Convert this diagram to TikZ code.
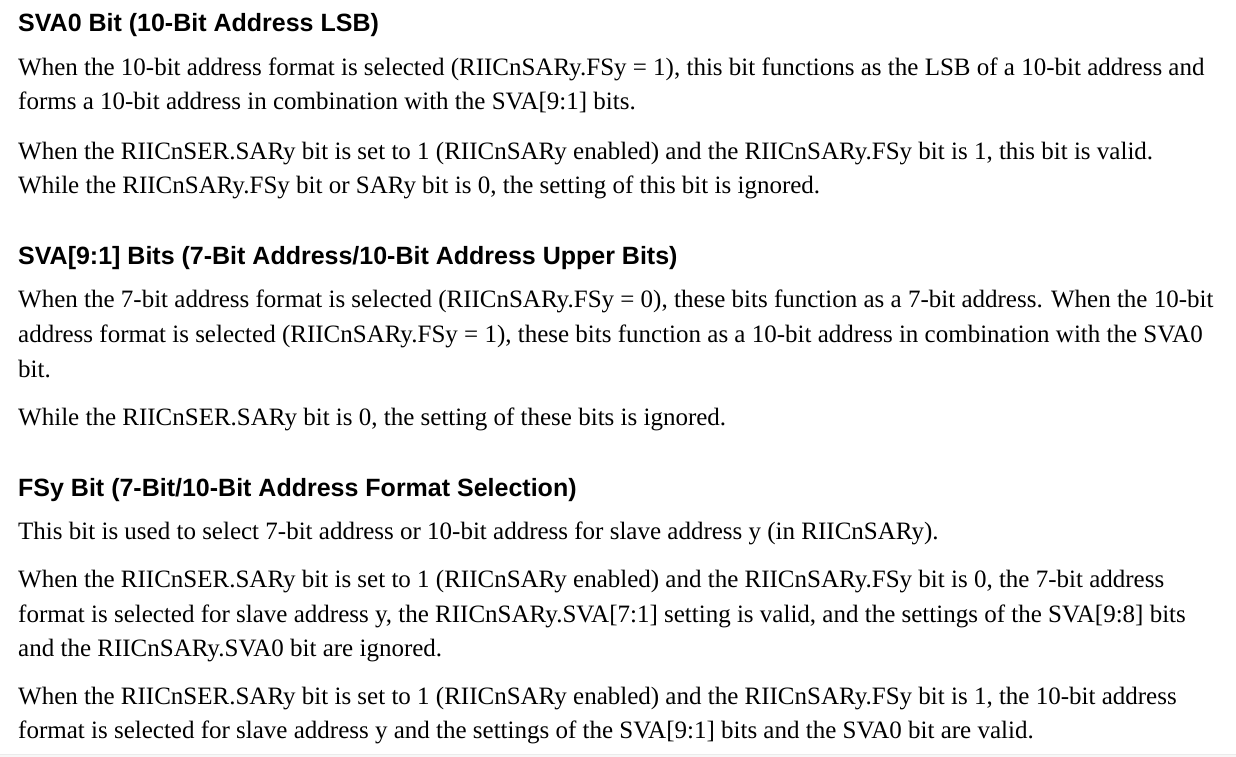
\documentclass[tikz,border=0pt]{standalone}
\usepackage{fontspec}
\setmainfont{Liberation Serif}
\newfontfamily\headfont{Liberation Sans}
\begin{document}
\begin{tikzpicture}[x=1pt,y=-1pt,
  body/.style={anchor=base west,inner sep=0pt,font=\fontsize{25}{29}\selectfont},
  head/.style={anchor=base west,inner sep=0pt,font=\headfont\bfseries\fontsize{25}{29}\selectfont}]
\useasboundingbox[fill=white] (0,0) rectangle (1236,757);
\fill[black!3] (0,754) rectangle (1236,757);
\draw[black!8,line width=0.8pt] (0,754) -- (1236,754);
\node[head] (h1) at (18,32) {SVA0 Bit (10-Bit Address LSB)};
\node[body] (a1) at (18,76) {When the 10-bit address format is selected (RIICnSARy.FSy = 1), this bit functions as the LSB of a 10-bit address and};
\node[body] (a2) at (18,110) {forms a 10-bit address in combination with the SVA[9:1] bits.};
\node[body] (a3) at (18,159) {When the RIICnSER.SARy bit is set to 1 (RIICnSARy enabled) and the RIICnSARy.FSy bit is 1, this bit is valid.};
\node[body] (a4) at (18,193) {While the RIICnSARy.FSy bit or SARy bit is 0, the setting of this bit is ignored.};
\node[head] (h2) at (18,264) {SVA[9:1] Bits (7-Bit Address/10-Bit Address Upper Bits)};
\node[body] (b1) at (18,307) {When the 7-bit address format is selected (RIICnSARy.FSy = 0), these bits function as a 7-bit address. When the 10-bit};
\node[body] (b2) at (18,342) {address format is selected (RIICnSARy.FSy = 1), these bits function as a 10-bit address in combination with the SVA0};
\node[body] (b3) at (18,377) {bit.};
\node[body] (b4) at (18,425) {While the RIICnSER.SARy bit is 0, the setting of these bits is ignored.};
\node[head] (h3) at (18,496) {FSy Bit (7-Bit/10-Bit Address Format Selection)};
\node[body] (c1) at (18,539) {This bit is used to select 7-bit address or 10-bit address for slave address y (in RIICnSARy).};
\node[body] (c2) at (18,587) {When the RIICnSER.SARy bit is set to 1 (RIICnSARy enabled) and the RIICnSARy.FSy bit is 0, the 7-bit address};
\node[body] (c3) at (18,622) {format is selected for slave address y, the RIICnSARy.SVA[7:1] setting is valid, and the settings of the SVA[9:8] bits};
\node[body] (c4) at (18,656) {and the RIICnSARy.SVA0 bit are ignored.};
\node[body] (c5) at (18,704) {When the RIICnSER.SARy bit is set to 1 (RIICnSARy enabled) and the RIICnSARy.FSy bit is 1, the 10-bit address};
\node[body] (c6) at (18,738) {format is selected for slave address y and the settings of the SVA[9:1] bits and the SVA0 bit are valid.};
\end{tikzpicture}
\end{document}
